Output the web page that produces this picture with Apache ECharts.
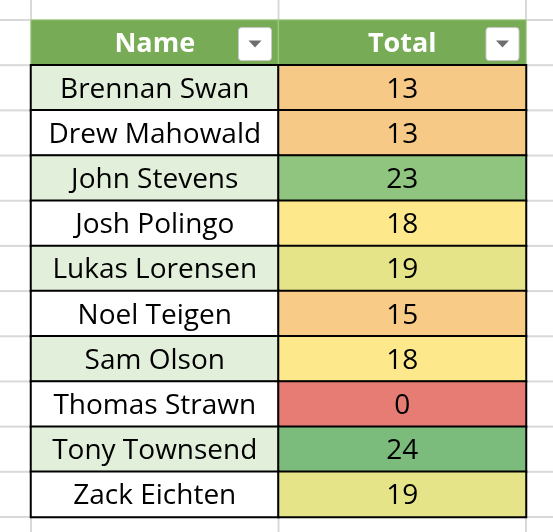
<!DOCTYPE html>
<html><head><meta charset="utf-8">
<script src="https://cdn.jsdelivr.net/npm/echarts@6/dist/echarts.min.js"></script>
<style>html,body{margin:0;padding:0;background:#fff}#c{width:553px;height:532px}</style>
</head><body><div id="c"></div>
<script>
const headers = ['Name', 'Total'];
const names = ['Brennan Swan','Drew Mahowald','John Stevens','Josh Polingo','Lukas Lorensen','Noel Teigen','Sam Olson','Thomas Strawn','Tony Townsend','Zack Eichten'];
const totals = [13, 13, 23, 18, 19, 15, 18, 0, 24, 19];
const totalColors = {0:'#E67C73',13:'#F7C986',15:'#F8CB86',18:'#FDE98C',19:'#E5E489',23:'#8FC57F',24:'#7BBB7C'};

const rows = ['hdr'].concat(names);
const data = [];
headers.forEach((h, i) => data.push({value:[i, 0, 0], label:h, itemStyle:{color:'#78AB55', borderColor:'#A9CF8E', borderWidth:1}, hdr:true}));
names.forEach((n, r) => {
  data.push({value:[0, r+1, 0], label:n, itemStyle:{color: r%2===0 ? '#E2EFDA' : '#FFFFFF', borderColor:'#000', borderWidth:2}});
  data.push({value:[1, r+1, totals[r]], label:String(totals[r]), itemStyle:{color: totalColors[totals[r]], borderColor:'#000', borderWidth:2}});
});
data.forEach(d => {
  d.label = {show:true, formatter:d.label, color:d.hdr?'#fff':'#000', fontWeight:d.hdr?'bold':'normal', fontSize:d.hdr?27:28, fontFamily:'Open Sans', offset:[0,2]};
});

const chart = echarts.init(document.getElementById('c'));
chart.setOption({
  animation:false,
  grid:{left:31, right:27, top:20, bottom:15},
  xAxis:{type:'category', data:headers, show:false},
  yAxis:{type:'category', data:rows, inverse:true, show:false},
  series:[{type:'heatmap', data:data, emphasis:{disabled:true}, z:2}]
});

const g = [];
const gc = '#D9D9D9';
const x0 = chart.convertToPixel({gridIndex:0}, [0,0])[0];
const x1 = chart.convertToPixel({gridIndex:0}, [1,0])[0];
const cw = x1 - x0;
const y0 = chart.convertToPixel({gridIndex:0}, [0,0])[1];
const y1 = chart.convertToPixel({gridIndex:0}, [0,1])[1];
const rh = y1 - y0;
const L = x0 - cw/2, M = x0 + cw/2, R = x1 + cw/2;
const T = y0 - rh/2, B = T + rh*rows.length;
for (let i = -1; i <= rows.length + 1; i++) {
  const y = T + i*rh;
  g.push({type:'line', shape:{x1:0, y1:y, x2:L, y2:y}, style:{stroke:gc, lineWidth:2}, z:0});
  g.push({type:'line', shape:{x1:R, y1:y, x2:553, y2:y}, style:{stroke:gc, lineWidth:2}, z:0});
}
[L, M, R].forEach(x => {
  g.push({type:'line', shape:{x1:x, y1:0, x2:x, y2:T}, style:{stroke:gc, lineWidth:2}, z:0});
  g.push({type:'line', shape:{x1:x, y1:B, x2:x, y2:532}, style:{stroke:gc, lineWidth:2}, z:0});
});
[M, R].forEach(xr => {
  const bx = xr - 40, by = y0 - 15;
  g.push({type:'rect', shape:{x:bx, y:by, width:33, height:33, r:3}, style:{fill:'#fff', stroke:'#C8C8C8', lineWidth:1}, z:10});
  g.push({type:'polygon', shape:{points:[[bx+10,by+13],[bx+23,by+13],[bx+16.5,by+20]]}, style:{fill:'#6E6E6E'}, z:11});
});
chart.setOption({graphic:g});
</script></body></html>
